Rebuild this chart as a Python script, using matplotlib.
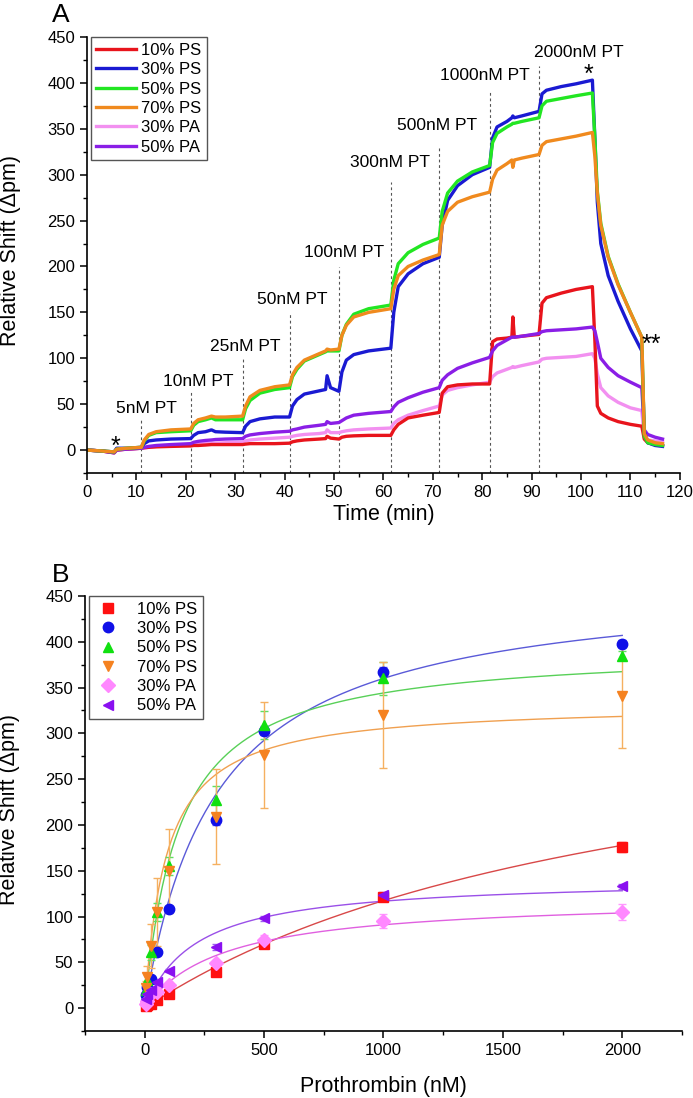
import matplotlib.pyplot as plt
import numpy as np
from matplotlib.ticker import MultipleLocator

plt.rcParams["font.family"] = ["Liberation Sans", "DejaVu Sans"]

# ---- panel A: binding traces ----
series_labels = ["10% PS", "30% PS", "50% PS", "70% PS", "30% PA", "50% PA"]

time_min = [
    0, 3, 5.5, 6, 8, 11,
    11.6, 12.5, 14, 17, 21,
    21.6, 22.5, 24, 25.2, 26, 28, 31.5,
    32.1, 33, 35, 38, 41,
    41.6, 42.5, 44, 47, 48.3, 48.6, 49.3, 51,
    51.6, 52.5, 54, 57, 61.5,
    62.1, 63, 65, 68, 71.3,
    71.9, 73, 75, 78, 81.5,
    82.1, 83, 85, 86, 86.2, 86.5, 88, 91.5,
    92.1, 93, 96, 99, 102.3,
    102.8, 103.3, 104, 105.5, 107.5, 110, 112.3,
    112.8, 113.5, 115, 116.5,
]

shift_10ps = [
    0, -1, -3, 0, 1, 2,
    2.5, 3, 3.5, 4, 4.5,
    5, 5, 5.5, 6, 6, 6, 6,
    6.5, 7, 7, 7, 7.5,
    9, 10, 11, 12, 12.5, 15, 13, 12,
    14, 15, 15.5, 16, 16,
    22, 28, 35, 38, 41,
    62, 69, 71, 72, 72,
    118, 121, 122, 123, 145, 123, 124, 126,
    160, 166, 171, 175, 178,
    120, 48, 40, 35, 31, 28, 26,
    12, 8, 6, 5,
]
shift_30ps = [
    0, -1, -2, 2, 2, 3,
    7, 10, 11, 12, 12.5,
    16, 19, 20, 22, 20, 19.5, 19,
    26, 31, 34, 36, 36,
    48, 55, 61, 64.5, 66, 81, 68, 64,
    85, 98, 104, 108, 111,
    150, 178, 192, 203, 210,
    245, 272, 288, 300, 308,
    340, 352, 358, 362, 364, 362, 364, 369,
    388, 392, 396, 399, 403,
    340, 270, 225, 190, 162, 132, 108,
    20, 8, 5, 4,
]
shift_50ps = [
    0, -1, -2, 1, 2, 3,
    10, 16, 19, 20, 21,
    27, 31, 33, 35, 33, 33, 33,
    45, 54, 62, 66, 68,
    80, 88, 97, 104, 107, 108, 108, 108,
    125, 137, 148, 154, 158,
    185, 203, 215, 224, 231,
    260, 280, 293, 303, 310,
    335, 345, 352, 355, 356, 356, 358, 362,
    375, 380, 383, 386, 389,
    340, 282, 247, 211, 181, 150, 123,
    15, 8, 6, 5,
]
shift_70ps = [
    0, -1, -2, 1, 2, 3,
    11, 17, 20, 22, 23,
    29, 33, 35, 37, 36, 36, 37,
    48, 58, 65, 69, 71,
    82, 90, 98, 105, 108, 110, 109, 110,
    125, 136, 145, 150, 154,
    175, 190, 200, 207, 213,
    245, 260, 270, 276, 281,
    295, 305, 312, 316, 308, 316, 318, 322,
    332, 336, 339, 342, 346,
    320, 280, 245, 210, 180, 150, 123,
    18, 11, 8, 7,
]
shift_30pa = [
    0, -1, -3, 0, 1, 2,
    2.5, 3, 4, 5, 5.5,
    6, 6.5, 7, 7.5, 7.5, 8, 8.5,
    10, 11, 12, 13, 14,
    15, 16, 17, 18, 19, 22, 19, 19,
    20, 21, 22, 23, 24,
    29, 33, 38, 43, 48,
    60, 65, 68, 71, 74,
    80, 84, 88, 90, 91, 90, 92, 96,
    99, 100, 101, 102, 105,
    100, 83, 68, 59, 52, 46, 43,
    14, 11, 10, 9,
]
shift_50pa = [
    0, -1, -3, 0, 1, 2,
    3, 4, 5, 6, 7,
    8.5, 9.5, 10.5, 11, 11.5, 12, 12.5,
    15, 16.5, 18, 19.5, 20.5,
    22, 23, 25, 27, 28, 31, 29, 30,
    32, 35, 38, 40, 42,
    47, 52, 57, 63, 68,
    76, 82, 89, 95, 101,
    108, 114, 120, 123, 123, 123, 124, 127,
    129, 130, 131, 132, 134,
    130, 118, 100, 90, 81, 74, 68,
    22, 17, 14, 12,
]

inj_times = [11, 21, 31.5, 41, 51, 61.5, 71.3, 81.5, 91.5]
inj_tops = [35, 64, 101, 149, 199, 292, 331, 390, 418]
inj_labels = ["5nM PT", "10nM PT", "25nM PT", "50nM PT", "100nM PT",
              "300nM PT", "500nM PT", "1000nM PT", "2000nM PT"]
inj_label_x = [12, 22.5, 32, 41.5, 52, 61.3, 70.9, 80.6, 99.6]
inj_label_y = [45, 75, 113, 164, 215, 313, 354, 408, 433]

# ---- panel B: titration ----
conc_nm = [5, 10, 25, 50, 100, 300, 500, 1000, 2000]
eq_10ps = [2, 3, 5, 9, 15, 39, 70, 121, 176]
eq_30ps = [14, 23, 32, 61, 108, 205, 303, 367, 398]
eq_50ps = [20, 31, 61, 105, 155, 227, 309, 360, 385]
eq_70ps = [22, 34, 68, 105, 150, 209, 276, 320, 341]
eq_30pa = [5, 8, 15, 18, 25, 49, 74, 95, 105]
eq_50pa = [10, 15, 20, 28, 41, 67, 98, 124, 133]
err_10ps = [1, 1, 1, 1, 2, 3, 3, 3, 5]
err_30ps = [2, 2, 3, 3, 3, 5, 5, 5, 4]
err_50ps = [5, 6, 8, 10, 10, 15, 15, 18, 5]
err_70ps = [8, 12, 24, 37, 46, 52, 58, 58, 57]
err_30pa = [1, 1, 2, 2, 3, 4, 6, 8, 9]
err_50pa = [1, 1, 2, 2, 2, 3, 3, 3, 3]

# hyperbolic binding fit
fit_bmax = [366, 468, 394, 333, 121, 142]
fit_kd = [2118, 300, 145, 91, 330, 216]

line_colors = ["#e8141c", "#1a1ad2", "#22e622", "#f08a1e", "#f290f0", "#8a1ee6"]
marker_colors = ["#ff1010", "#1010e8", "#10e010", "#f58220", "#ff88ff", "#8a10f0"]
fit_colors = ["#d84848", "#5a5ad8", "#58d058", "#f0a050", "#e060e0", "#9a50e8"]
err_colors = ["#ff6060", "#6060ff", "#60e060", "#f5b060", "#ff99ff", "#a060f0"]
markers = ["s", "o", "^", "v", "D", "<"]

fig = plt.figure(figsize=(6.93, 10.98), dpi=100)
axA = fig.add_axes([0.1255, 0.5692, 0.8555, 0.3971])
axB = fig.add_axes([0.1227, 0.0610, 0.8613, 0.3962])

traces = [shift_10ps, shift_30ps, shift_50ps, shift_70ps, shift_30pa, shift_50pa]
draw_order = [4, 0, 5, 1, 2, 3]
handles = [None] * 6
for i in draw_order:
    (h,) = axA.plot(time_min, traces[i], color=line_colors[i], lw=2.4,
                    solid_joinstyle="round", label=series_labels[i])
    handles[i] = h

for t, top, lab, lx, ly in zip(inj_times, inj_tops, inj_labels, inj_label_x, inj_label_y):
    axA.plot([t, t], [-25, top], color="#555555", lw=0.8, ls=(0, (2.5, 2.5)), zorder=0)
    axA.text(lx, ly, lab, ha="center", va="center", fontsize=12.5)

# event markers (stars)
axA.text(5.8, 17, "*", ha="center", va="top", fontsize=18)
axA.text(101.6, 422, "*", ha="center", va="top", fontsize=18)
axA.text(114.3, 128, "**", ha="center", va="top", fontsize=18)

axA.set_xlim(0, 120)
axA.set_ylim(-25, 450)
axA.xaxis.set_major_locator(MultipleLocator(10))
axA.xaxis.set_minor_locator(MultipleLocator(5))
axA.yaxis.set_major_locator(MultipleLocator(50))
axA.yaxis.set_minor_locator(MultipleLocator(25))
axA.set_xlabel("Time (min)", fontsize=15.5)
axA.xaxis.set_label_coords(0.5, -0.07)
axA.set_ylabel("Relative Shift (\u0394pm)", fontsize=15.5)
axA.yaxis.set_label_coords(-0.112, 0.51)
axA.legend(handles=handles, loc="upper left", bbox_to_anchor=(0.006, 1.0),
           fontsize=12, frameon=True, fancybox=False, edgecolor="#555555",
           framealpha=1, borderpad=0.35, labelspacing=0.26, handlelength=2.4,
           handletextpad=0.3, borderaxespad=0.0)
axA.text(-0.059, 1.034, "A", transform=axA.transAxes, fontsize=19, va="baseline")

# ---- panel B ----
eq_values = [eq_10ps, eq_30ps, eq_50ps, eq_70ps, eq_30pa, eq_50pa]
eq_errors = [err_10ps, err_30ps, err_50ps, err_70ps, err_30pa, err_50pa]
c_fit = np.linspace(0, 2000, 300)
for i in range(6):
    axB.plot(c_fit, fit_bmax[i] * c_fit / (fit_kd[i] + c_fit),
             color=fit_colors[i], lw=1.0, zorder=2)

b_handles = []
for i in range(6):
    axB.errorbar(conc_nm, eq_values[i], yerr=eq_errors[i], fmt="none",
                 ecolor=err_colors[i], elinewidth=1.0, capsize=3, capthick=1.0,
                 zorder=3)
    (h,) = axB.plot(conc_nm, eq_values[i], ls="none", marker=markers[i],
                    ms=7.5, color=marker_colors[i], label=series_labels[i], zorder=4)
    b_handles.append(h)

axB.set_xlim(-250, 2250)
axB.set_ylim(-25, 450)
axB.xaxis.set_major_locator(MultipleLocator(500))
axB.xaxis.set_minor_locator(MultipleLocator(250))
axB.yaxis.set_major_locator(MultipleLocator(50))
axB.yaxis.set_minor_locator(MultipleLocator(25))
axB.set_xlabel("Prothrombin (nM)", fontsize=15.5)
axB.xaxis.set_label_coords(0.5, -0.104)
axB.set_ylabel("Relative Shift (\u0394pm)", fontsize=15.5)
axB.yaxis.set_label_coords(-0.109, 0.51)
axB.legend(handles=b_handles, loc="upper left", bbox_to_anchor=(0.007, 1.0),
           fontsize=12, frameon=True, fancybox=False, edgecolor="#555555",
           framealpha=1, borderpad=0.35, labelspacing=0.26, handlelength=1.6,
           handletextpad=0.9, borderaxespad=0.0)
axB.text(-0.056, 1.032, "B", transform=axB.transAxes, fontsize=19, va="baseline")

for ax in (axA, axB):
    ax.spines["top"].set_visible(False)
    ax.spines["right"].set_visible(False)
    ax.spines["left"].set_linewidth(1.2)
    ax.spines["bottom"].set_linewidth(1.2)
    ax.tick_params(which="major", direction="out", length=5, width=1.1, labelsize=12)
    ax.tick_params(which="minor", direction="out", length=3, width=1.0)

fig.savefig("out.png", dpi=100)
